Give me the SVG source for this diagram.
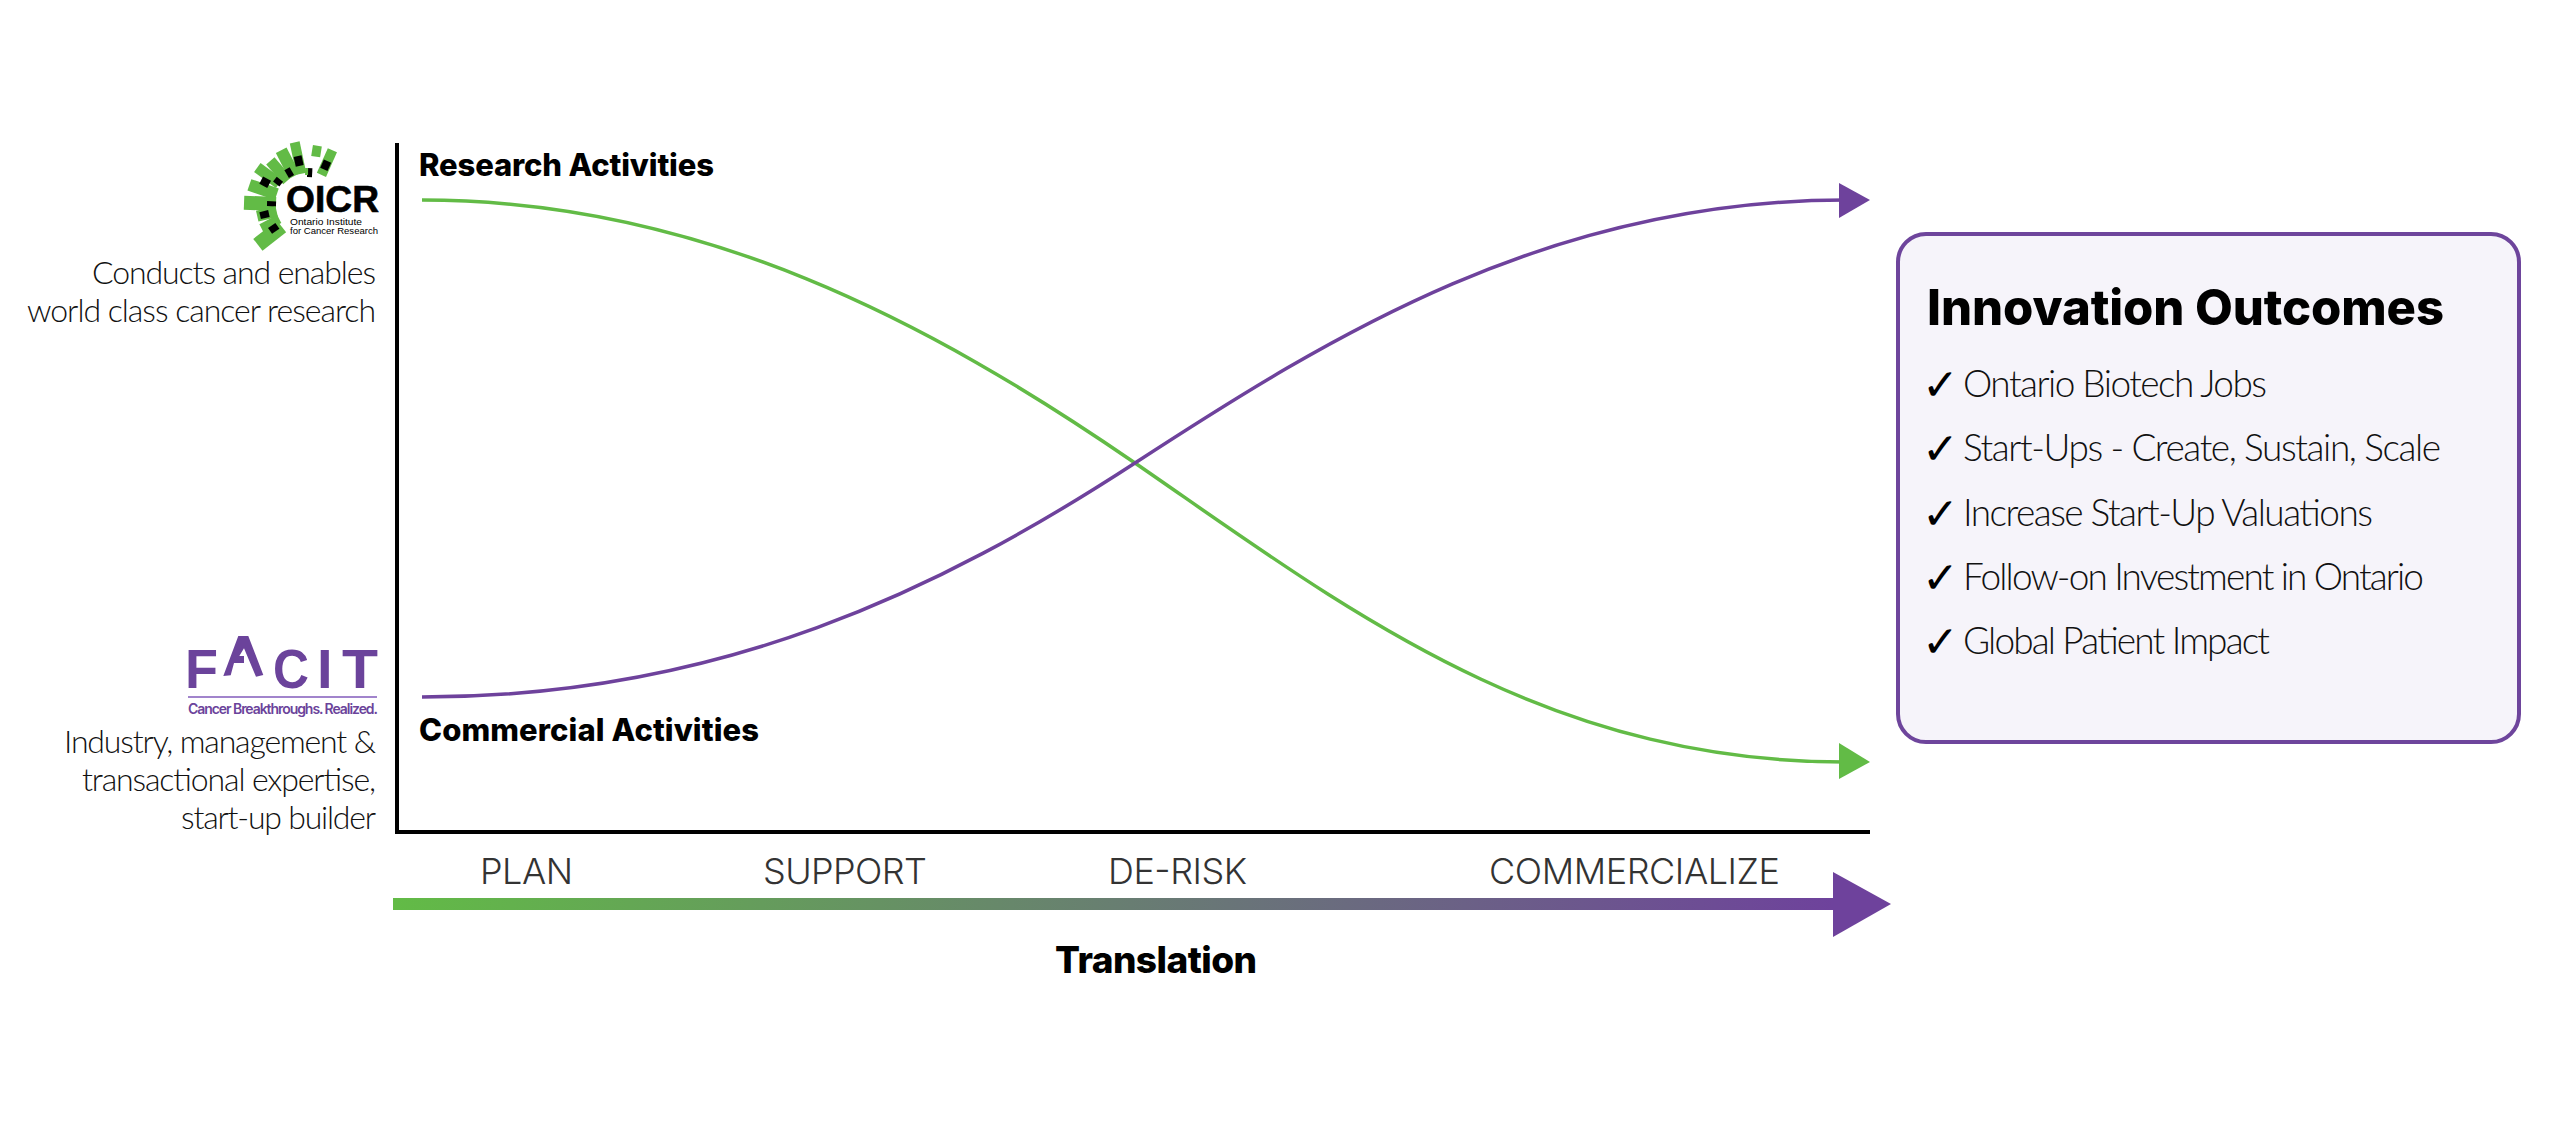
<svg xmlns="http://www.w3.org/2000/svg" width="2560" height="1126" viewBox="0 0 2560 1126">
<style>
text{font-family:"Inter","Liberation Sans",sans-serif}
.t{font-weight:300;fill:#111}
.b{font-weight:800;fill:#000}
.s{font-family:"Lato","Liberation Sans",sans-serif;font-size:32px;text-anchor:end}
.i{font-family:"Lato","Liberation Sans",sans-serif;font-size:37px}
.p{font-size:36px;fill:#333}
.c{font-family:"DejaVu Sans",sans-serif;font-size:44px;fill:#000;font-weight:700}
.g{fill:#62bb46}.k{fill:#000}
.v{font-family:"Liberation Sans",sans-serif}
</style>
<defs>
<linearGradient id="gr" gradientUnits="userSpaceOnUse" x1="393" y1="0" x2="1833" y2="0"><stop offset="0" stop-color="#62bb46"/><stop offset="1" stop-color="#6e429c"/></linearGradient>
</defs>
<rect width="2560" height="1126" fill="#fff"/>
<g id="axes"><path d="M397 143V832H1870" fill="none" stroke="#000" stroke-width="4"/></g>
<g id="connectors" fill="none" stroke-width="3.500">
<path d="M422 200C700 200 930 322 1135 463S1540 762 1845 762" stroke="#62bb46"/>
<path d="M422 697C720 697 940 590 1135 463S1550 200 1845 200" stroke="#6e429c"/>
<polygon points="1839,183 1870,200 1839,218" fill="#6e429c" stroke="none"/>
<polygon points="1839,743 1870,762 1839,779" fill="#62bb46" stroke="none"/>
</g>
<g id="oicr-logo">
<g transform="translate(308 205)">
<rect class="g" x="-5" y="-64" width="10" height="32" transform="rotate(-12)"/>
<rect class="g" x="-5" y="-61" width="12" height="29" transform="rotate(-27)"/>
<rect class="k" x="-4" y="-50" width="8" height="10" transform="rotate(-12)"/>
<rect class="g" x="-5" y="-58" width="11" height="26" transform="rotate(-41)"/>
<rect class="k" x="-3" y="-42" width="6" height="9" transform="rotate(-30)"/>
<rect class="g" x="-5" y="-63" width="11" height="27" transform="rotate(-54)"/>
<rect class="k" x="-3" y="-42" width="6" height="8" transform="rotate(-52)"/>
<rect class="g" x="-6" y="-62" width="12" height="29" transform="rotate(-71)"/>
<rect class="k" x="-4" y="-53" width="8" height="9" transform="rotate(-62)"/>
<rect class="g" x="-7" y="-64" width="14" height="32" transform="rotate(-88)"/>
<rect class="k" x="-2.500" y="-41" width="5" height="9" transform="rotate(-88)"/>
<rect class="g" x="-5" y="-52" width="11" height="20" transform="rotate(-103)"/>
<rect class="k" x="-3" y="-49" width="7" height="9" transform="rotate(-103)"/>
<rect class="g" x="-8" y="-64" width="15" height="30" transform="rotate(-128)"/>
<rect class="g" x="-4" y="-52" width="9" height="20" transform="rotate(-117)"/>
<rect class="k" x="-3" y="-46" width="7" height="9" transform="rotate(-125)"/>
<rect class="k" x="-2.500" y="-37" width="5" height="9" transform="rotate(3)"/>
<rect class="g" x="-3.500" y="-37" width="3" height="7" transform="rotate(1)"/>
<rect class="g" x="-4.500" y="-60" width="9" height="11" transform="rotate(9)"/>
<rect class="g" x="-5" y="-60" width="10" height="27" transform="rotate(24)"/>
<rect class="k" x="-4" y="-48" width="8" height="9" transform="rotate(24)"/>
</g>
<text x="286" y="212" font-size="36" font-weight="700" fill="#000" class="v" textLength="93" lengthAdjust="spacingAndGlyphs" stroke="#000" stroke-width="0.600">OICR</text>
<text x="290" y="224.500" font-size="9.500" fill="#000" class="v" textLength="72" lengthAdjust="spacingAndGlyphs">Ontario Institute</text>
<text x="290" y="234" font-size="9.500" fill="#000" class="v" textLength="88" lengthAdjust="spacingAndGlyphs">for Cancer Research</text>
</g>
<g id="oicr-text">
<text class="t s" x="376" y="284" textLength="284" lengthAdjust="spacing">Conducts and enables</text>
<text class="t s" x="376" y="322" textLength="349" lengthAdjust="spacing">world class cancer research</text>
</g>
<g id="facit-logo" fill="#6b439b">
<text x="185" y="688" font-size="56" font-weight="700" class="v" textLength="33" lengthAdjust="spacingAndGlyphs">F</text>
<polygon points="223.300,676 238.300,636 248.300,636 263.300,675 256,676.700 244,648.300 239.300,656 244,656 244,663 234,663 230.700,675.300"/>
<text x="273" y="688" font-size="56" font-weight="700" class="v" textLength="36" lengthAdjust="spacingAndGlyphs">C</text>
<text x="317" y="688" font-size="56" font-weight="700" class="v">I</text>
<text x="342" y="688" font-size="56" font-weight="700" class="v" textLength="36" lengthAdjust="spacingAndGlyphs">T</text>
<rect x="188" y="696" width="189" height="2" fill="#a184cc"/>
<text x="188" y="714" font-size="14" font-weight="600" textLength="190" lengthAdjust="spacing">Cancer Breakthroughs. Realized.</text>
</g>
<g id="facit-text">
<text class="t s" x="376" y="753" textLength="312" lengthAdjust="spacing">Industry, management &amp;</text>
<text class="t s" x="376" y="791" textLength="294" lengthAdjust="spacing">transactional expertise,</text>
<text class="t s" x="376" y="829" textLength="195" lengthAdjust="spacing">start-up builder</text>
</g>
<g id="research-label"><text class="b" x="419" y="176" font-size="31" textLength="295" lengthAdjust="spacing">Research Activities</text></g>
<g id="commercial-label"><text class="b" x="419" y="741" font-size="31" textLength="340" lengthAdjust="spacing">Commercial Activities</text></g>
<g id="translation-axis">
<rect x="393" y="898" width="1440" height="12" fill="url(#gr)"/>
<polygon points="1833,872 1891,904 1833,937" fill="#6e429c"/>
<text class="t p" x="480" y="884" textLength="93" lengthAdjust="spacing">PLAN</text>
<text class="t p" x="763" y="884" textLength="164" lengthAdjust="spacing">SUPPORT</text>
<text class="t p" x="1108" y="884" textLength="139" lengthAdjust="spacing">DE-RISK</text>
<text class="t p" x="1489" y="884" textLength="291" lengthAdjust="spacing">COMMERCIALIZE</text>
<text class="b" x="1055" y="973" font-size="37" textLength="202" lengthAdjust="spacing">Translation</text>
</g>
<g id="outcomes">
<rect x="1898" y="234" width="621" height="508" rx="28" fill="#f6f4fa" stroke="#6e459c" stroke-width="4"/>
<text class="b" x="1927" y="325" font-size="49" textLength="517" lengthAdjust="spacing">Innovation Outcomes</text>
<text class="c" x="1922" y="400">✓</text><text class="t i" x="1963" y="397" textLength="304" lengthAdjust="spacing">Ontario Biotech Jobs</text>
<text class="c" x="1922" y="464">✓</text><text class="t i" x="1963" y="461" textLength="478" lengthAdjust="spacing">Start-Ups - Create, Sustain, Scale</text>
<text class="c" x="1922" y="529">✓</text><text class="t i" x="1963" y="526" textLength="410" lengthAdjust="spacing">Increase Start-Up Valuations</text>
<text class="c" x="1922" y="593">✓</text><text class="t i" x="1963" y="590" textLength="461" lengthAdjust="spacing">Follow-on Investment in Ontario</text>
<text class="c" x="1922" y="657">✓</text><text class="t i" x="1963" y="654" textLength="307" lengthAdjust="spacing">Global Patient Impact</text>
</g>
</svg>
